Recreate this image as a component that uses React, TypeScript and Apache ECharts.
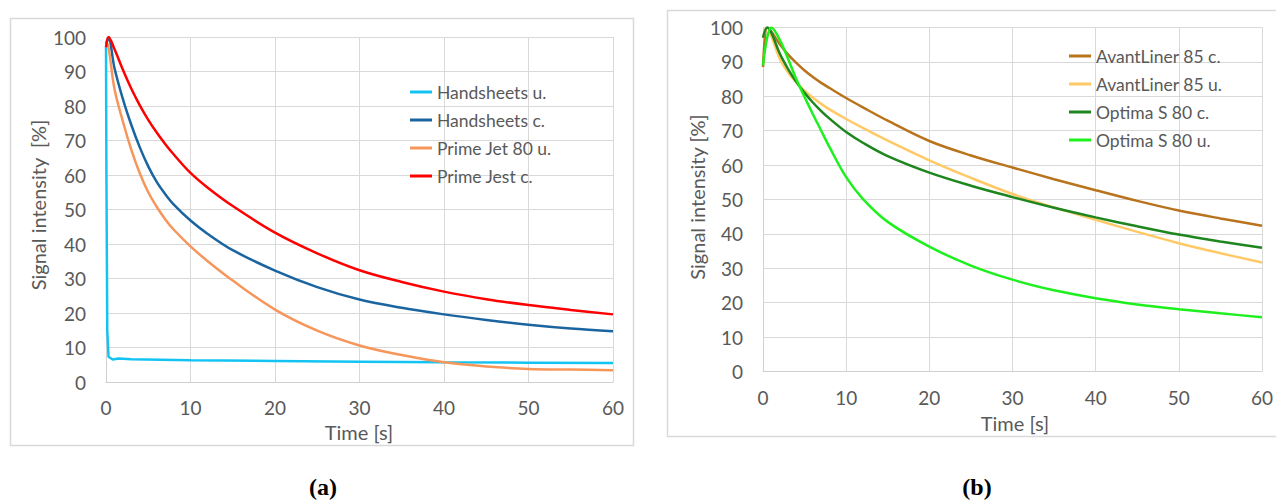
import React, { useEffect, useRef } from "react";
import * as echarts from "echarts";

// ---- Data (a) ----
const leftTimes = [0, 0.3, 1, 2, 3, 4, 5, 6, 7, 8, 10, 12, 15, 20, 25, 30, 35, 40, 45, 50, 55, 60];
const handsheetsC = [98, 99.5, 91, 82, 74.5, 68, 62.5, 58, 54.5, 51.5, 46.8, 43, 38.2, 32.3, 27.5, 23.9, 21.5, 19.6, 18, 16.6, 15.5, 14.7];
const primeJet80U = [99, 97, 85, 75.5, 67.3, 60.5, 55, 50.8, 47.2, 44.2, 39.3, 35.1, 29.4, 21, 14.9, 10.6, 7.8, 5.7, 4.5, 3.8, 3.6, 3.4];
const primeJestC = [97, 100, 96.5, 90.5, 85, 80.2, 76, 72.3, 69, 66, 60.6, 56.4, 51, 43.3, 37.3, 32.4, 29, 26.2, 24, 22.3, 20.9, 19.6];
const handsheetsUTimes = [0, 0.05, 0.15, 0.3, 0.8, 1.5, 3, 10, 20, 30, 40, 50, 60];
const handsheetsU = [97, 60, 15, 7.3, 6.5, 6.8, 6.6, 6.3, 6.1, 5.9, 5.7, 5.6, 5.5];

// ---- Data (b) ----
const rightTimes = [0, 0.5, 1, 2, 3, 4, 5, 6, 7, 8, 10, 12, 15, 20, 25, 30, 35, 40, 45, 50, 55, 60];
const avantLinerC = [88.5, 100, 98.8, 95.2, 92.2, 89.7, 87.5, 85.6, 83.9, 82.4, 79.5, 76.8, 72.9, 67, 62.8, 59.3, 55.9, 52.7, 49.6, 46.8, 44.5, 42.4];
const avantLinerU = [97, 100, 97.5, 91, 87, 84, 81.6, 79.6, 77.8, 76.2, 73.4, 70.8, 67.1, 61.4, 56.3, 51.6, 47.7, 44.1, 40.6, 37.3, 34.4, 31.7];
const optimaC = [97, 100, 98.5, 92.5, 88, 84.2, 81, 78.2, 75.7, 73.5, 69.6, 66.5, 62.6, 57.8, 54, 50.7, 47.6, 44.8, 42.2, 39.8, 37.8, 36];
const optimaU = [89, 97, 100, 96.5, 91, 85, 79.8, 74.8, 70, 65.2, 56.5, 50.2, 43.5, 36.3, 30.8, 26.7, 23.6, 21.3, 19.5, 18.1, 16.9, 15.8];

const xTicks = { min: 0, max: 60, interval: 10 };
const yTicks = { min: 0, max: 100, interval: 10 };

const FONT = "Lato";
const GREY_TEXT = "#595959";
const GRID_LINE = "#d9d9d9";

const pairs = (xs: number[], ys: number[]) => xs.map((x, i) => [x, ys[i]]);

export default function App() {
  const ref = useRef<HTMLDivElement>(null);
  useEffect(() => {
    if (!ref.current) return;
    const chart = echarts.init(ref.current, null, { renderer: "svg" });

    const xAxisBase = (gridIndex: number) => ({
      type: "value",
      gridIndex,
      ...xTicks,
      axisLine: { show: true, lineStyle: { color: "#d0d0d0", width: 1 } },
      axisTick: { show: false },
      splitLine: { show: true, lineStyle: { color: GRID_LINE, width: 1 } },
      axisLabel: { color: GREY_TEXT, fontSize: 19, fontFamily: FONT, margin: 16 },
    });
    const yAxisBase = (gridIndex: number) => ({
      type: "value",
      gridIndex,
      ...yTicks,
      axisLine: { show: true, lineStyle: { color: "#d0d0d0", width: 1 } },
      axisTick: { show: false },
      splitLine: { show: true, lineStyle: { color: GRID_LINE, width: 1 } },
      axisLabel: { color: GREY_TEXT, fontSize: 19, fontFamily: FONT, margin: 20 },
    });

    const line = (name: string, data: number[][], color: string, xi: number, smooth: boolean | number = 0.35) => ({
      name,
      type: "line",
      xAxisIndex: xi,
      yAxisIndex: xi,
      data,
      showSymbol: false,
      smooth,
      lineStyle: { color, width: 2.5 },
      itemStyle: { color },
    });

    const legendBase = {
      orient: "vertical",
      icon: "rect",
      itemWidth: 22,
      itemHeight: 3,
      itemGap: 10,
      textStyle: { color: GREY_TEXT, fontSize: 17.5, fontFamily: FONT, lineHeight: 18 },
    };

    chart.setOption({
      animation: false,
      backgroundColor: "#ffffff",
      grid: [
        { left: 106, top: 37, width: 507, height: 345 },
        { left: 763, top: 27.5, width: 504, height: 344 },
      ],
      xAxis: [xAxisBase(0), xAxisBase(1)],
      yAxis: [yAxisBase(0), yAxisBase(1)],
      legend: [
        { ...legendBase, left: 405, top: 78, data: ["Handsheets u.", "Handsheets c.", "Prime Jet 80 u.", "Prime Jest c."] },
        { ...legendBase, left: 1064, top: 42, data: ["AvantLiner 85 c.", "AvantLiner 85 u.", "Optima S 80 c.", "Optima S 80 u."] },
      ],
      series: [
        line("Handsheets u.", pairs(handsheetsUTimes, handsheetsU), "#13c4f3", 0, false),
        line("Handsheets c.", pairs(leftTimes, handsheetsC), "#1a64a0", 0),
        line("Prime Jet 80 u.", pairs(leftTimes, primeJet80U), "#f7965a", 0),
        line("Prime Jest c.", pairs(leftTimes, primeJestC), "#ff0000", 0),
        line("AvantLiner 85 c.", pairs(rightTimes, avantLinerC), "#b8731c", 1),
        line("AvantLiner 85 u.", pairs(rightTimes, avantLinerU), "#ffc966", 1),
        line("Optima S 80 c.", pairs(rightTimes, optimaC), "#1e861e", 1),
        line("Optima S 80 u.", pairs(rightTimes, optimaU), "#1ef01e", 1),
      ],
      graphic: [
        { type: "rect", z: -1, shape: { x: 10.5, y: 18.5, width: 623, height: 427 }, style: { fill: "none", stroke: GRID_LINE, lineWidth: 1.5 } },
        { type: "rect", z: -1, shape: { x: 667.5, y: 10.5, width: 630, height: 426 }, style: { fill: "none", stroke: GRID_LINE, lineWidth: 1.5 } },
        { type: "text", x: 359, y: 432, style: { text: "Time [s]", fill: GREY_TEXT, fontSize: 20, fontFamily: FONT, align: "center", verticalAlign: "middle" } },
        { type: "text", x: 38, y: 205, rotation: Math.PI / 2, style: { text: "Signal intensity  [%]", fill: GREY_TEXT, fontSize: 20, fontFamily: FONT, align: "center", verticalAlign: "middle" } },
        { type: "text", x: 1015, y: 423, style: { text: "Time [s]", fill: GREY_TEXT, fontSize: 20, fontFamily: FONT, align: "center", verticalAlign: "middle" } },
        { type: "text", x: 697, y: 197, rotation: Math.PI / 2, style: { text: "Signal intensity [%]", fill: GREY_TEXT, fontSize: 20, fontFamily: FONT, align: "center", verticalAlign: "middle" } },
        { type: "text", x: 323, y: 487, style: { text: "(a)", fill: "#000000", fontSize: 24, fontWeight: "bold", fontFamily: "Liberation Serif", align: "center", verticalAlign: "middle" } },
        { type: "text", x: 977, y: 487, style: { text: "(b)", fill: "#000000", fontSize: 24, fontWeight: "bold", fontFamily: "Liberation Serif", align: "center", verticalAlign: "middle" } },
      ],
    });
    return () => chart.dispose();
  }, []);
  return <div ref={ref} style={{ position: "absolute", left: 0, top: 0, width: 1276, height: 500 }} />;
}
